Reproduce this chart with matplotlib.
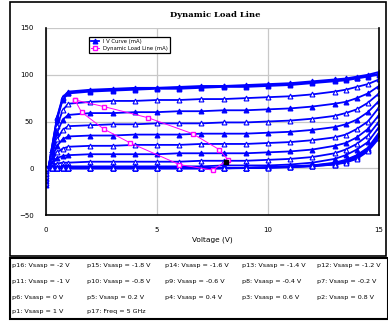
import matplotlib
matplotlib.use("Agg")
from matplotlib import pyplot as plt
from matplotlib.patches import Rectangle

# drain voltage grid shared by all IV curves
volts = [0, 0.25, 0.5, 0.75, 1, 2, 3, 4, 5, 6, 7, 8, 9, 10, 11, 12, 13, 13.5, 14, 14.5, 15]

# IV curves (mA), p1 .. p16
iv_curves = [
    [-18, 20, 55, 76, 82, 84, 85, 86, 86, 87, 88, 88, 89, 90, 91, 93, 95, 96, 98, 100, 103],
    [-16, 20, 54, 75, 81, 83, 84, 85, 86, 86, 87, 88, 88, 89, 90, 92, 94, 95, 97, 99, 101],
    [-14, 19, 52, 73, 80, 82, 83, 84, 85, 85, 86, 87, 87, 88, 89, 91, 93, 94, 96, 98, 100],
    [-12, 17, 45, 62, 69, 71, 72, 72, 73, 73, 74, 74, 75, 76, 77, 79, 82, 84, 87, 90, 95],
    [-10, 15, 38, 52, 57, 59, 59, 60, 60, 61, 61, 62, 62, 63, 64, 66, 69, 71, 75, 80, 88],
    [-8, 13, 31, 41, 45, 46, 47, 47, 48, 48, 48, 49, 49, 50, 51, 53, 56, 59, 63, 70, 80],
    [-6, 10, 24, 31, 34, 35, 35, 36, 36, 36, 37, 37, 37, 38, 39, 41, 44, 47, 52, 60, 72],
    [-5, 8, 17, 21, 23, 24, 24, 25, 25, 25, 26, 26, 26, 27, 28, 30, 33, 36, 42, 50, 65],
    [-3, 6, 11, 13, 14, 15, 15, 15, 15, 16, 16, 16, 16, 17, 18, 20, 24, 27, 33, 42, 57],
    [-2, 3, 5, 6, 6, 7, 7, 7, 7, 7, 8, 8, 8, 9, 10, 12, 16, 20, 26, 35, 50],
    [-1, 1, 1, 2, 2, 2, 2, 2, 2, 2, 2, 3, 3, 3, 4, 6, 10, 14, 20, 28, 44],
    [0, 0, 0, 0, 0, 0, 0, 0, 0, 0, 0, 0, 0.5, 1, 2, 3, 6, 9, 14, 22, 38],
    [0, 0, 0, 0, 0, 0, 0, 0, 0, 0, 0, 0, 0.4, 1, 2, 3, 5, 8, 13, 21, 36],
    [0, 0, 0, 0, 0, 0, 0, 0, 0, 0, 0, 0, 0.3, 1, 1.5, 2.5, 5, 8, 12, 20, 35],
    [0, 0, 0, 0, 0, 0, 0, 0, 0, 0, 0, 0, 0.2, 0.5, 1.5, 2.5, 4, 7, 11, 19, 33],
    [0, 0, 0, 0, 0, 0, 0, 0, 0, 0, 0, 0, 0.1, 0.5, 1, 2, 4, 6, 10, 18, 32],
]

# dynamic load line loop
load_v = [1.3, 2.6, 4.6, 6.6, 7.8, 8.2, 7.5, 6.0, 3.8, 2.6, 1.6, 1.3]
load_i = [73, 66, 54, 37, 20, 9, -2, 4, 27, 42, 60, 73]

table_rows = [
    ["p16: Vsasp = -2 V", "p15: Vsasp = -1.8 V", "p14: Vsasp = -1.6 V",
     "p13: Vsasp = -1.4 V", "p12: Vsasp = -1.2 V"],
    ["p11: Vsasp = -1 V", "p10: Vsasp = -0.8 V", "p9: Vsasp = -0.6 V",
     "p8: Vsasp = -0.4 V", "p7: Vsasp = -0.2 V"],
    ["p6: Vsasp = 0 V", "p5: Vsasp = 0.2 V", "p4: Vsasp = 0.4 V",
     "p3: Vsasp = 0.6 V", "p2: Vsasp = 0.8 V"],
    ["p1: Vsasp = 1 V", "p17: Freq = 5 GHz"],
]

W, H = 388, 321
fig = plt.figure(figsize=(W / 100, H / 100), dpi=100)

# outer chart frame and table frame
fig.patches.append(Rectangle((10 / W, 1 - 256 / H), 376 / W, 254 / H, transform=fig.transFigure,
                             fill=False, edgecolor='black', linewidth=1.2))
fig.patches.append(Rectangle((10 / W, 1 - 319 / H), 378 / W, 61 / H, transform=fig.transFigure,
                             fill=False, edgecolor='black', linewidth=1.5))

ax = fig.add_axes([46 / W, 1 - 215 / H, 333 / W, 187 / H])

for k, curve in enumerate(iv_curves):
    ax.plot(volts, curve, color='blue', linewidth=1.3, marker='^', markersize=3.5,
            markerfacecolor='blue' if k % 2 == 0 else 'white', markeredgecolor='blue',
            markeredgewidth=0.8, label="I V Curve (mA)" if k == 0 else None)

ax.plot(load_v, load_i, color='magenta', linewidth=0.7, linestyle='-', marker='s',
        markersize=3.5, markerfacecolor='white', markeredgecolor='magenta',
        label="Dynamic Load Line (mA)")
ax.plot([8.1], [7], marker='s', markersize=3, color='black')

ax.set_xlim(0, 15)
ax.set_ylim(-50, 150)
ax.set_xticks([0, 5, 10, 15])
ax.set_yticks([-50, 0, 50, 100, 150])
ax.tick_params(labelsize=5, length=0, pad=9)
ax.grid(True, color='#c8c8c8', linewidth=0.9)
ax.spines['top'].set_visible(False)
for side in ['right', 'left', 'bottom']:
    ax.spines[side].set_linewidth(1.2)

ax.set_xlabel('Voltage (V)', fontsize=5.3, labelpad=2)
fig.text(215 / W, 1 - 15 / H, 'Dynamic Load Line', ha='center', va='center',
         fontsize=6, fontweight='bold', family='DejaVu Serif')

leg = ax.legend(loc='upper left', bbox_to_anchor=(0.12, 0.965), fontsize=3.8, frameon=True,
                fancybox=False, edgecolor='black', framealpha=1, borderpad=0.4,
                labelspacing=0.3, handlelength=1.5)
leg.get_frame().set_linewidth(0.9)

col_x = [12, 87, 165, 242, 317]
row_y = [266, 282, 297, 311]
for r, row in enumerate(table_rows):
    for c, txt in enumerate(row):
        fig.text(col_x[c] / W, 1 - row_y[r] / H, txt, fontsize=4.6, va='center', ha='left')

fig.savefig('out.png', dpi=100)
